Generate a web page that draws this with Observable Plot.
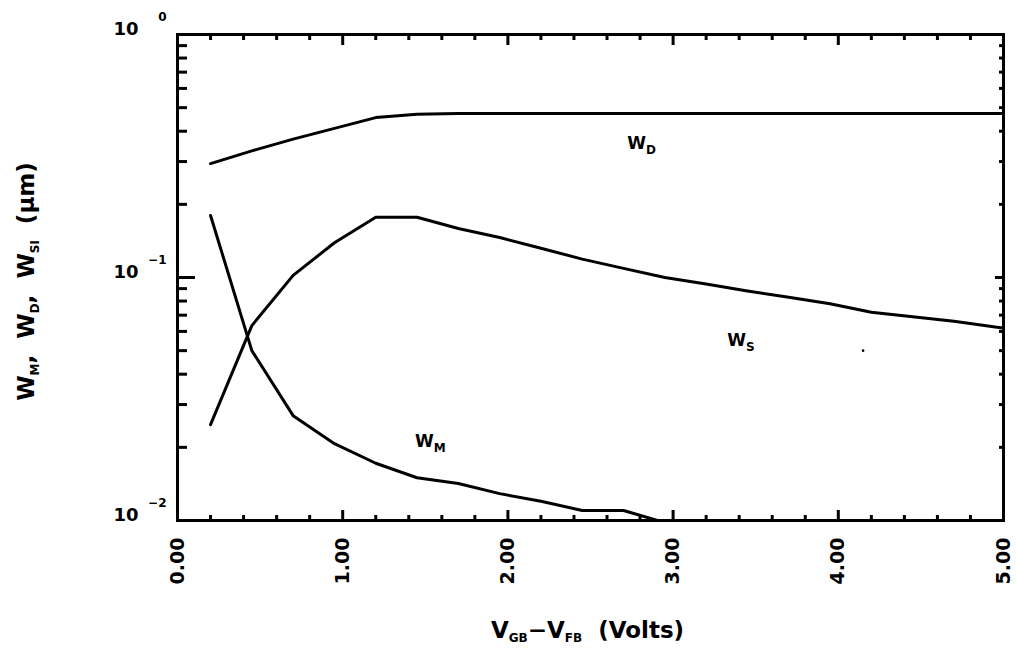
<!DOCTYPE html>
<html><head><meta charset="utf-8">
<script src="https://cdn.jsdelivr.net/npm/d3@7"></script>
<script src="https://cdn.jsdelivr.net/npm/@observablehq/plot@0.6"></script>
<style>body{margin:0;background:#fff} svg{display:block}</style>
</head><body><div id="chart"></div>
<script>
// ---- data ----
const vgbD = [0.2, 0.45, 0.7, 0.95, 1.2, 1.45, 1.7, 1.95, 2.45, 2.95, 3.45, 3.95, 4.45, 5.0];
const wD   = [0.294, 0.332, 0.371, 0.411, 0.455, 0.470, 0.473, 0.473, 0.473, 0.473, 0.473, 0.473, 0.473, 0.473];

const vgbS = [0.2, 0.45, 0.7, 0.95, 1.2, 1.45, 1.7, 1.95, 2.2, 2.45, 2.7, 2.95, 3.2, 3.45, 3.7, 3.95, 4.2, 4.45, 4.7, 4.95, 5.0];
const wS   = [0.0248, 0.0634, 0.102, 0.139, 0.177, 0.177, 0.159, 0.146, 0.132, 0.119, 0.109, 0.100, 0.094, 0.088, 0.083, 0.078, 0.072, 0.069, 0.066, 0.0625, 0.062];

const vgbM = [0.2, 0.45, 0.7, 0.95, 1.2, 1.45, 1.7, 1.95, 2.2, 2.45, 2.7, 2.95];
const wM   = [0.18, 0.050, 0.027, 0.0207, 0.0172, 0.0150, 0.0142, 0.0129, 0.0120, 0.0110, 0.0110, 0.0098];

const seriesNames = ["WD", "WS", "WM"];
const labelText = ["W_{D}", "W_{S}", "W_{M}"];
const labelX = [2.81, 3.41, 1.53];
const labelY = [0.356, 0.055, 0.0211];

const specksX = [4.15];
const specksY = [0.050];

const xMajor = [0, 1, 2, 3, 4, 5];
const xTickLabels = ["0.00", "1.00", "2.00", "3.00", "4.00", "5.00"];
const xMinor = [0.2,0.4,0.6,0.8,1.2,1.4,1.6,1.8,2.2,2.4,2.6,2.8,3.2,3.4,3.6,3.8,4.2,4.4,4.6,4.8];
const yMajor = [0.01, 0.1, 1];
const yTickBase = ["10", "10", "10"];
const yTickExp = ["\u22122", "\u22121", "0"];
const yMinor = [0.02,0.03,0.04,0.05,0.06,0.07,0.08,0.09,0.2,0.3,0.4,0.5,0.6,0.7,0.8,0.9];

const yTitle = "W_{M},  W_{D},  W_{SI}  (\u03bcm)";
const xTitle = "V_{GB}\u2212V_{FB}  (Volts)";

// ---- build table ----
const rows = [
  ...vgbD.map((x, i) => ({series: "WD", x, y: wD[i]})),
  ...vgbS.map((x, i) => ({series: "WS", x, y: wS[i]})),
  ...vgbM.map((x, i) => ({series: "WM", x, y: wM[i]}))
];
const labels = labelText.map((t, i) => ({t, x: labelX[i], y: labelY[i]}));
const specks = specksX.map((x, i) => ({x, y: specksY[i]}));

const font = "DejaVu Sans";
const sw = 3;

const plot = Plot.plot({
  width: 1016, height: 670,
  marginLeft: 177, marginRight: 13, marginTop: 34, marginBottom: 150,
  x: {domain: [0, 5]},
  y: {type: "log", domain: [0.01, 1]},
  style: {fontFamily: font, background: "#fff", color: "#000"},
  marks: [
    // inward ticks: bottom
    Plot.axisX(xMajor, {anchor: "bottom", tickSize: 10, dy: -10, strokeWidth: sw, fill: "none", label: null}),
    Plot.axisX(xMinor, {anchor: "bottom", tickSize: 5, dy: -5, strokeWidth: sw, fill: "none", label: null}),
    // top
    Plot.axisX(xMajor, {anchor: "top", tickSize: 10, dy: 10, strokeWidth: sw, fill: "none", label: null}),
    Plot.axisX(xMinor, {anchor: "top", tickSize: 5, dy: 5, strokeWidth: sw, fill: "none", label: null}),
    // left
    Plot.axisY(yMajor, {anchor: "left", tickSize: 18, dx: 18, strokeWidth: sw, fill: "none", label: null}),
    Plot.axisY(yMinor, {anchor: "left", tickSize: 10, dx: 10, strokeWidth: sw, fill: "none", label: null}),
    // right
    Plot.axisY(yMajor, {anchor: "right", tickSize: 9, dx: -9, strokeWidth: sw, fill: "none", label: null}),
    Plot.axisY(yMinor, {anchor: "right", tickSize: 5, dx: -5, strokeWidth: sw, fill: "none", label: null}),
    // x tick labels
    Plot.axisX(xMajor, {anchor: "bottom", tickSize: 0, tickPadding: 17, tickRotate: -90,
      tickFormat: d => xTickLabels[xMajor.indexOf(d)], fontSize: 19, fontWeight: "bold", label: null}),
    // y tick labels
    Plot.text(yMajor, {frameAnchor: "left", y: d => d, text: (d, i) => yTickBase[i], dx: -39, dy: -5,
      textAnchor: "end", lineAnchor: "middle", fontSize: 18, fontWeight: "bold"}),
    Plot.text(yMajor, {frameAnchor: "left", y: d => d, text: (d, i) => yTickExp[i], dx: -11, dy: -17,
      textAnchor: "end", lineAnchor: "middle", fontSize: 12, fontWeight: "bold"}),
    Plot.frame({stroke: "#000", strokeWidth: sw}),
    Plot.line(rows, {x: "x", y: "y", z: "series", stroke: "#000", strokeWidth: sw, clip: true}),
    Plot.dot(specks, {x: "x", y: "y", r: 1.3, fill: "#000", stroke: null}),
    Plot.text(labels, {x: "x", y: "y", text: "t", fontSize: 17, fontWeight: "bold", textAnchor: "middle"}),
    Plot.text([yTitle], {frameAnchor: "left", text: d => d, rotate: -90, dx: -151, dy: 4,
      textAnchor: "middle", fontSize: 23, fontWeight: "bold"}),
    Plot.text([xTitle], {frameAnchor: "bottom", text: d => d, dx: -3, dy: 117,
      textAnchor: "middle", fontSize: 23, fontWeight: "bold"})
  ]
});

// turn "_{...}" markup into subscript tspans
d3.select(plot).selectAll("text").each(function() {
  const el = this;
  const t = el.textContent;
  if (!t.includes("_{")) return;
  const fs = parseFloat(getComputedStyle(el).fontSize) || 16;
  const shift = fs * 0.3;
  el.textContent = "";
  el.setAttribute("xml:space", "preserve");
  el.style.whiteSpace = "pre";
  const re = /_\{([^}]*)\}/g;
  let last = 0, m, down = false;
  const add = (s, sub) => {
    if (!s) return;
    const ts = d3.select(el).append("tspan").text(s);
    if (sub && !down) { ts.attr("dy", shift).style("font-size", (fs * 0.75) + "px"); down = true; }
    else if (sub) { ts.style("font-size", (fs * 0.75) + "px"); }
    else if (!sub && down) { ts.attr("dy", -shift); down = false; }
  };
  while ((m = re.exec(t))) {
    add(t.slice(last, m.index), false);
    add(m[1], true);
    last = re.lastIndex;
  }
  add(t.slice(last), false);
});

document.getElementById("chart").appendChild(plot);
</script>
</body></html>
